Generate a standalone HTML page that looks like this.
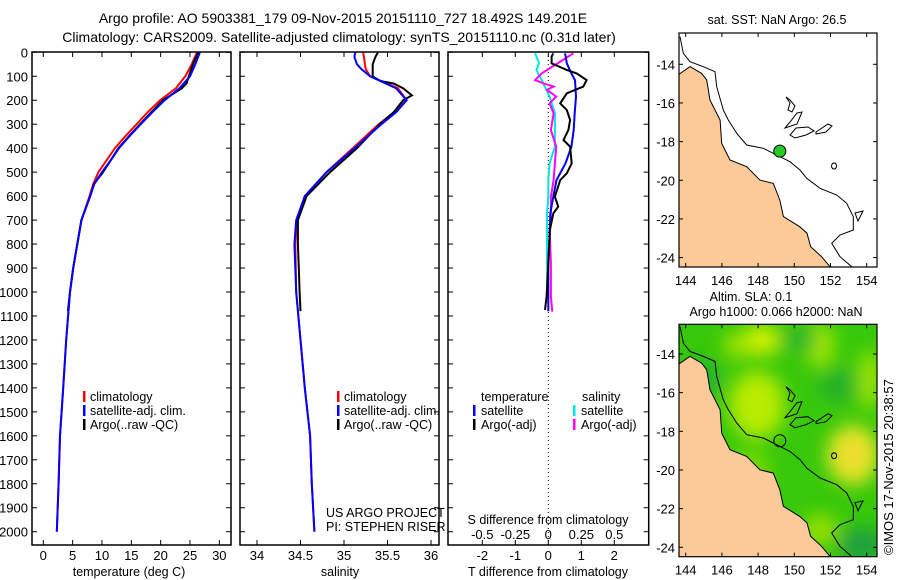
<!DOCTYPE html>
<html><head><meta charset="utf-8"><style>
body{margin:0;background:#fff}
svg{display:block;font-family:"Liberation Sans",sans-serif}
text{fill:#000}
</style></head><body>
<svg id="chart" width="900" height="580" viewBox="0 0 900 580" xmlns="http://www.w3.org/2000/svg">
<defs>
<clipPath id="cp1"><rect x="32" y="52" width="199" height="493"/></clipPath>
<clipPath id="cp2"><rect x="240" y="52" width="199" height="493"/></clipPath>
<clipPath id="cp3"><rect x="448" y="52" width="200" height="493"/></clipPath>
<clipPath id="cpm1"><rect x="679" y="33" width="198" height="234"/></clipPath>
<clipPath id="cpm2"><rect x="679" y="324" width="198" height="232"/></clipPath>
<filter id="blur" x="-20%" y="-20%" width="140%" height="140%"><feGaussianBlur stdDeviation="9"/></filter>
</defs>
<text x="343" y="23" font-size="14" text-anchor="middle">Argo profile: AO 5903381_179 09-Nov-2015 20151110_727 18.492S 149.201E</text>
<text x="339" y="42" font-size="14" text-anchor="middle">Climatology: CARS2009. Satellite-adjusted climatology: synTS_20151110.nc (0.31d later)</text>
<g id="p1"></g>
<g id="p2"></g>
<g id="p3"></g>
<g id="maps"></g>
<text transform="translate(893,555) rotate(-90)" font-size="13">©IMOS 17-Nov-2015 20:38:57</text>
</svg>
<script>
// ---- data ----
const depthTicks=[0,100,200,300,400,500,600,700,800,900,1000,1100,1200,1300,1400,1500,1600,1700,1800,1900,2000];
const tempTicks=[0,5,10,15,20,25,30];
const salTicks=[34,34.5,35,35.5,36];
const tdiffTicks=[-2,-1,0,1,2];
const sdiffTicks=[-0.5,-0.25,0,0.25,0.5];
const tempArgoDepth=[0,50,100,130,150,200,250,300,350,400,450,500,550,600,700,800,900,1000,1080];
const tempArgo=[26.4,25.5,24.8,24.4,23.6,20.4,18.4,16.5,14.6,12.8,11.5,10.2,8.6,8.0,6.5,5.8,5.1,4.55,4.2];
const tempClimDepth=[0,50,100,150,200,250,300,350,400,450,500,550,600,700,800,900,1000,1200,1400,1600,1800,2000];
const tempClim=[26.2,25.3,24.2,22.6,19.9,17.8,15.9,14.0,12.2,10.8,9.4,8.5,7.9,6.5,5.8,5.1,4.55,3.9,3.4,2.85,2.6,2.3];
const tempSat=[26.7,25.9,25.0,23.2,20.7,18.6,16.6,14.7,12.9,11.5,10.0,8.7,8.0,6.5,5.8,5.1,4.55,3.9,3.4,2.85,2.6,2.3];
const salArgoDepth=[0,20,50,100,120,130,150,180,200,250,300,400,500,600,700,800,900,1000,1080];
const salArgo=[35.39,35.36,35.33,35.33,35.42,35.57,35.68,35.78,35.68,35.57,35.41,35.15,34.84,34.57,34.47,34.47,34.48,34.49,34.5];
const salClimDepth=[0,20,50,70,100,150,200,250,300,400,500,600,700,800,1000,1200,1400,1600,1800,2000];
const salClim=[35.22,35.23,35.24,35.25,35.30,35.62,35.72,35.58,35.40,35.10,34.80,34.55,34.46,34.44,34.45,34.5,34.55,34.61,34.63,34.66];
const salSat=[35.13,35.12,35.15,35.2,35.3,35.6,35.72,35.6,35.43,35.12,34.8,34.55,34.45,34.43,34.45,34.5,34.55,34.61,34.63,34.66];
const tdSatDepth=[4,46,88,116,185,254,324,394,463,533,602,672,741,880,1080];
const tdSat=[0.51,0.56,0.70,0.81,0.84,0.80,0.77,0.70,0.52,0.25,0.15,0.06,0.05,0.0,0.0];
const tdArgoDepth=[4,18,46,74,88,116,143,171,213,241,282,324,366,394,463,505,533,602,644,672,741,880,1019,1075];
const tdArgo=[0.15,0.10,0.10,0.56,0.86,1.16,1.06,0.56,0.36,0.56,0.66,0.61,0.46,0.66,0.71,0.56,0.36,0.20,0.30,0.15,0.05,0.0,-0.05,-0.10];
const sdSatDepth=[4,46,74,116,185,254,324,394,463,533,602,672,741,880,1019];
const sdSat=[-0.10,-0.07,-0.09,-0.05,0.01,0.05,0.05,0.05,0.01,0.0,0.0,-0.01,-0.01,-0.01,-0.01];
const sdArgoDepth=[4,32,74,88,116,129,143,157,185,213,254,324,394,463,533,602,672,741,880,1019,1082];
const sdArgo=[0.19,0.11,-0.01,-0.05,-0.10,-0.04,0.04,-0.01,0.06,0.01,0.04,0.02,0.06,0.05,0.04,0.02,0.02,0.01,0.02,0.02,0.03];
const latTicks=[-14,-16,-18,-20,-22,-24];
const lonTicks=[144,146,148,150,152,154];
const argoLon=149.2, argoLat=-18.49;

// ---- helpers ----
const NS="http://www.w3.org/2000/svg";
function mk(tag,attrs,parent){const e=document.createElementNS(NS,tag);for(const k in attrs)e.setAttribute(k,attrs[k]);parent.appendChild(e);return e;}
const yD=d=>52.3+d*0.2397;
const xT=t=>43.3+t*5.867;
const xS=s=>257+(s-34)*87;
const xTD=t=>548.3+t*33;
const xSD=s=>548.3+s*132;
function line(parent,xs,ds,fx,color,clip,name){
  const pts=xs.map((v,i)=>fx(v).toFixed(1)+","+yD(ds[i]).toFixed(1)).join(" ");
  const p=mk("polyline",{points:pts,fill:"none",stroke:color,"stroke-width":2,"clip-path":"url(#"+clip+")"},parent);
  
  
}
function frame(parent,x0,x1,name){
  const r=mk("rect",{x:x0,y:52,width:x1-x0,height:493,fill:"none",stroke:"#000","stroke-width":1.5},parent);
  
  
}
function yAxis(parent,x0,x1,labels){
  depthTicks.forEach(d=>{const y=yD(d);
    mk("line",{x1:x0,y1:y,x2:x0+5,y2:y,stroke:"#000"},parent);
    mk("line",{x1:x1-5,y1:y,x2:x1,y2:y,stroke:"#000"},parent);
    if(labels){const t=mk("text",{x:28,y:y+5,"font-size":13,"text-anchor":"end"},parent);t.textContent=d;
      
      }
  });
}
function xAxis(parent,ticks,fx,labelY){
  ticks.forEach(v=>{const x=fx(v);
    mk("line",{x1:x,y1:52,x2:x,y2:57,stroke:"#000"},parent);
    mk("line",{x1:x,y1:540,x2:x,y2:545,stroke:"#000"},parent);
    const t=mk("text",{x:x,y:labelY,"font-size":13,"text-anchor":"middle"},parent);t.textContent=v;
    
    
  });
}
function txt(parent,x,y,s,name,anchor){const t=mk("text",{x:x,y:y,"font-size":12.5,"text-anchor":anchor||"start"},parent);t.textContent=s;
  
  return t;}
function bar(parent,x,y,c,name){const r=mk("rect",{x:x,y:y-10,width:2.5,height:11,fill:c},parent);
  
  }

// ---- panel 1 ----
const p1=document.getElementById("p1");
line(p1,tempClim,tempClimDepth,xT,"#ff0000","cp1","temp-climatology-line");
line(p1,tempArgo,tempArgoDepth,xT,"#000000","cp1","temp-argo-line");
line(p1,tempSat,tempClimDepth,xT,"#0000ff","cp1","temp-satellite-line");
frame(p1,32,231,"temperature-frame");yAxis(p1,32,231,true);xAxis(p1,tempTicks,xT,560);
txt(p1,129,576,"temperature (deg C)","x-axis-title","middle");
[["climatology","#ff0000"],["satellite-adj. clim.","#0000ff"],["Argo(..raw -QC)","#000"]].forEach((l,i)=>{bar(p1,83,401+i*14,l[1],"legend-swatch");txt(p1,90,401+i*14,l[0],"legend-entry");});

// ---- panel 2 ----
const p2=document.getElementById("p2");
line(p2,salClim,salClimDepth,xS,"#ff0000","cp2","sal-climatology-line");
line(p2,salArgo,salArgoDepth,xS,"#000000","cp2","sal-argo-line");
line(p2,salSat,salClimDepth,xS,"#0000ff","cp2","sal-satellite-line");
frame(p2,240,439,"salinity-frame");yAxis(p2,240,439,false);xAxis(p2,salTicks,xS,560);
txt(p2,340,576,"salinity","x-axis-title","middle");
[["climatology","#ff0000"],["satellite-adj. clim.","#0000ff"],["Argo(..raw -QC)","#000"]].forEach((l,i)=>{bar(p2,337,401+i*14,l[1],"legend-swatch");txt(p2,344,401+i*14,l[0],"legend-entry");});
txt(p2,326,517,"US ARGO PROJECT","credit-project");
txt(p2,326,531,"PI: STEPHEN RISER","credit-pi");

// ---- panel 3 ----
const p3=document.getElementById("p3");
mk("line",{x1:548.3,y1:52,x2:548.3,y2:545,stroke:"#000","stroke-dasharray":"1,3"},p3);
line(p3,sdSat,sdSatDepth,xSD,"#00e5e5","cp3","sdiff-satellite-line");
line(p3,sdArgo,sdArgoDepth,xSD,"#ff00ff","cp3","sdiff-argo-line");
line(p3,tdSat,tdSatDepth,xTD,"#0000ee","cp3","tdiff-satellite-line");
line(p3,tdArgo,tdArgoDepth,xTD,"#000000","cp3","tdiff-argo-line");
frame(p3,448,648.7,"difference-frame");yAxis(p3,448,648.7,false);
tdiffTicks.forEach(v=>{const x=xTD(v);mk("line",{x1:x,y1:52,x2:x,y2:57,stroke:"#000"},p3);mk("line",{x1:x,y1:540,x2:x,y2:545,stroke:"#000"},p3);
  const t=mk("text",{x:x,y:560,"font-size":13,"text-anchor":"middle"},p3);t.textContent=v;
  
  });
sdiffTicks.forEach(v=>{const t=mk("text",{x:xSD(v),y:539,"font-size":13,"text-anchor":"middle"},p3);t.textContent=v;
  
  });
txt(p3,548,524,"S difference from climatology","sdiff-axis-title","middle");
txt(p3,548,576,"T difference from climatology","tdiff-axis-title","middle");
txt(p3,481,401,"temperature","legend-title-temp");txt(p3,582,401,"salinity","legend-title-sal");
bar(p3,473,415,"#0000ff","legend-swatch");txt(p3,481,415,"satellite","legend-entry");
bar(p3,473,429,"#000","legend-swatch");txt(p3,481,429,"Argo(-adj)","legend-entry");
bar(p3,573,415,"#00e5e5","legend-swatch");txt(p3,581,415,"satellite","legend-entry");
bar(p3,573,429,"#ff00ff","legend-swatch");txt(p3,581,429,"Argo(-adj)","legend-entry");

// ---- maps ----
const M=document.getElementById("maps");
const xL=lon=>685.7+(lon-144)*18.1;
const coastLon=[143.65,144.24,144.88,145.16,145.34,145.9,145.99,146.45,147.37,148.1,148.84,149.2,149.4,150.3,150.7,150.9,151.5,151.97,151.97];
const coastLat=[-14.5,-14.12,-14.47,-14.81,-15.85,-16.88,-18.09,-18.95,-19.3,-19.99,-20.16,-21.02,-21.88,-22.4,-22.74,-23.43,-23.95,-24.47,-25.5];
const contour="M680,36.7 L683.3,53.3 L690,61.7 L703.3,66.7 L715,71.7 L716.7,86.7 L723.3,110 L728.3,120 L736.7,133.3 L746.7,145 L763.3,148.3 L773.3,153.3 L780,156.7 L790,161.7 L800,170 L806.7,178.3 L820,188.3 L836.7,195 L846.7,203.3 L853.3,216.7 L853.3,230 L840,235 L831.7,243.3 L840,256.7 L851.7,266.7 L856.7,290";
const reefs="M786,97 L790,103 L788,110 L792,112 L795,106 L790,100 Z M797,113 L802,112 L797,124 L785,128 L790,122 Z M796,128 L808,127 L814,131 L806,135 L795,138 L790,135 Z M816,132 L828,124 L832,126 L826,132 L816,134 Z M834,163 a2.5,3 0 1,0 0.1,0 Z M855,213 L863,211 L858,221 Z";
function drawMap(top,bottom,lat14,clip,heat,name){
  const g=mk("g",{},M);
  const yL=lat=>lat14+(-14-lat)*19.33;
  const cg=mk("g",{"clip-path":"url(#"+clip+")"},g);
  if(heat){
    mk("rect",{x:679,y:324,width:198,height:233,fill:"#38c80a"},cg);
    const hb=mk("g",{filter:"url(#blur)"},cg);
    [[757,405,28,34,"#b8ec00"],[762,340,18,16,"#d6f200"],[738,345,14,14,"#a2e400"],[820,345,14,22,"#a8e800"],[853,455,26,30,"#e8e628"],[853,455,12,14,"#f0d830"],[840,385,22,16,"#22b02a"],[800,340,18,12,"#22b32a"],[862,545,24,18,"#1aa040"],[820,530,18,16,"#98e000"],[750,470,20,20,"#7ada00"],[700,380,20,20,"#20b030"],[870,380,12,30,"#99e400"]].forEach(b=>{mk("ellipse",{cx:b[0],cy:b[1],rx:b[2],ry:b[3],fill:b[4]},hb);});
  }
  const pts=coastLon.map((v,i)=>xL(v).toFixed(1)+","+yL(coastLat[i]).toFixed(1));
  const land=mk("polygon",{points:pts.join(" ")+" 670,600 670,"+yL(-14.5).toFixed(1),fill:"#fbca98",stroke:"#000","stroke-width":1},cg);
  
  const dy=lat14-64.3;
  mk("path",{d:contour,fill:"none",stroke:"#000","stroke-width":1,transform:"translate(0,"+dy+")"},cg);
  mk("path",{d:reefs,fill:"none",stroke:"#000","stroke-width":1,transform:"translate(0,"+dy+")"},cg);
  const pt=mk("circle",{cx:xL(argoLon),cy:yL(argoLat),r:6,fill:heat?"none":"#22cc22",stroke:"#000","stroke-width":1},g);
  
  mk("rect",{x:679,y:top,width:198,height:bottom-top,fill:"none",stroke:"#000","stroke-width":1.2},g);
  latTicks.forEach(l=>{const y=yL(l);mk("line",{x1:679,y1:y,x2:683,y2:y,stroke:"#000"},g);mk("line",{x1:873,y1:y,x2:877,y2:y,stroke:"#000"},g);
    const t=mk("text",{x:675,y:y+5,"font-size":13,"text-anchor":"end"},g);t.textContent=l;
    });
  lonTicks.forEach(l=>{const x=xL(l);mk("line",{x1:x,y1:top,x2:x,y2:top+4,stroke:"#000"},g);mk("line",{x1:x,y1:bottom-4,x2:x,y2:bottom,stroke:"#000"},g);
    const t=mk("text",{x:x,y:bottom+18,"font-size":13,"text-anchor":"middle"},g);t.textContent=l;
    });
}
drawMap(33,267,64.3,"cpm1",false,"sst-map");
drawMap(324.3,556.7,354,"cpm2",true,"altimetry-map");
txt(M,777,24,"sat. SST: NaN  Argo: 26.5","sst-map-title","middle");
txt(M,751,301,"Altim. SLA: 0.1","sla-map-title","middle");
txt(M,776,316,"Argo h1000: 0.066 h2000: NaN","sla-map-subtitle","middle");
</script>
</body></html>
